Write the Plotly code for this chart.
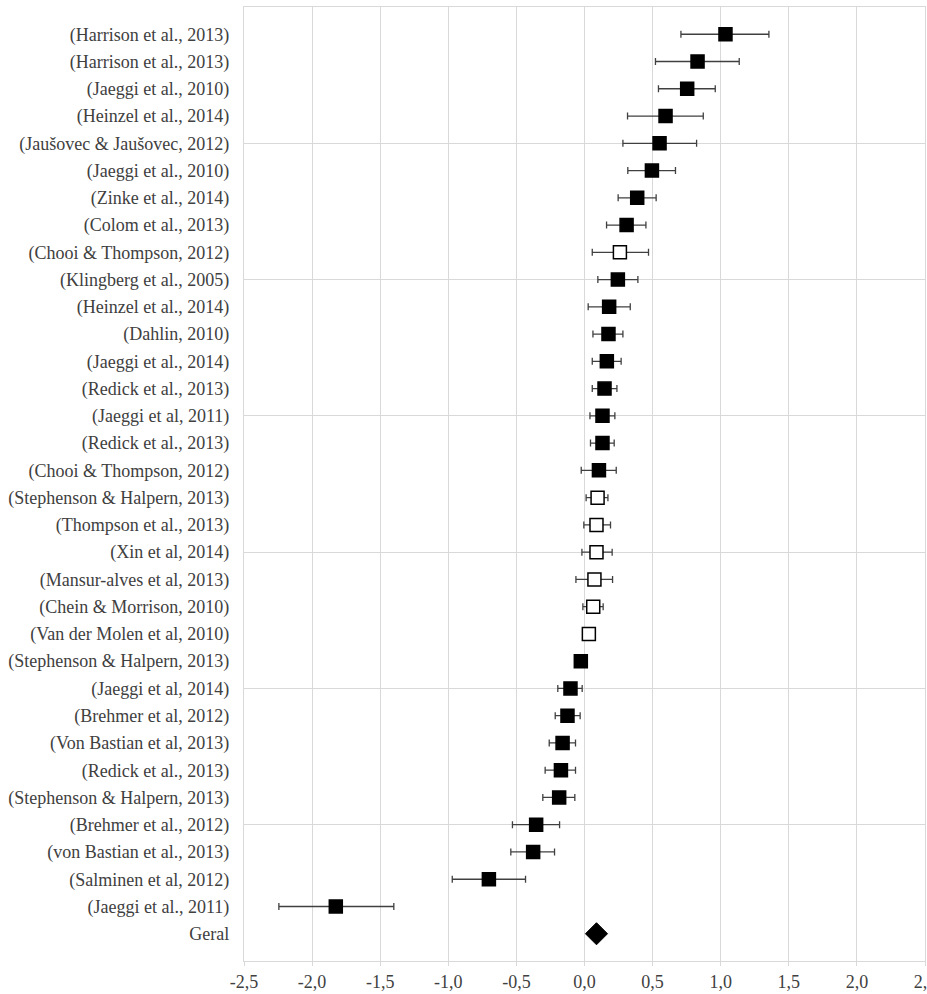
import plotly.graph_objects as go

studies = [
    "(Harrison et al., 2013)", "(Harrison et al., 2013)", "(Jaeggi et al., 2010)",
    "(Heinzel et al., 2014)", "(Jaušovec & Jaušovec, 2012)", "(Jaeggi et al., 2010)",
    "(Zinke et al., 2014)", "(Colom et al., 2013)", "(Chooi & Thompson, 2012)",
    "(Klingberg et al., 2005)", "(Heinzel et al., 2014)", "(Dahlin, 2010)",
    "(Jaeggi et al., 2014)", "(Redick et al., 2013)", "(Jaeggi et al, 2011)",
    "(Redick et al., 2013)", "(Chooi & Thompson, 2012)", "(Stephenson & Halpern, 2013)",
    "(Thompson et al., 2013)", "(Xin et al, 2014)", "(Mansur-alves et al, 2013)",
    "(Chein & Morrison, 2010)", "(Van der Molen et al, 2010)", "(Stephenson & Halpern, 2013)",
    "(Jaeggi et al, 2014)", "(Brehmer et al, 2012)", "(Von Bastian et al, 2013)",
    "(Redick et al., 2013)", "(Stephenson & Halpern, 2013)", "(Brehmer et al., 2012)",
    "(von Bastian et al., 2013)", "(Salminen et al, 2012)", "(Jaeggi et al., 2011)",
]
effect = [1.035, 0.830, 0.754, 0.595, 0.551, 0.495, 0.387, 0.309, 0.260, 0.245, 0.181,
          0.176, 0.164, 0.147, 0.132, 0.132, 0.106, 0.096, 0.088, 0.088, 0.073, 0.064,
          0.032, -0.027, -0.103, -0.125, -0.161, -0.173, -0.186, -0.355, -0.377, -0.702,
          -1.826]
ci_low = [0.708, 0.521, 0.543, 0.316, 0.282, 0.318, 0.247, 0.162, 0.057, 0.098, 0.027,
          0.062, 0.057, 0.057, 0.040, 0.044, -0.024, 0.012, -0.005, -0.019, -0.063, -0.012,
          0.032, -0.027, -0.196, -0.215, -0.259, -0.289, -0.306, -0.529, -0.541, -0.971,
          -2.244]
ci_high = [1.354, 1.136, 0.960, 0.872, 0.823, 0.668, 0.526, 0.451, 0.470, 0.392, 0.336,
           0.282, 0.269, 0.238, 0.223, 0.218, 0.233, 0.172, 0.191, 0.203, 0.206, 0.137,
           0.032, -0.027, -0.017, -0.032, -0.066, -0.066, -0.071, -0.183, -0.220, -0.433,
           -1.400]
hollow = [False, False, False, False, False, False, False, False, True, False, False,
          False, False, False, False, False, False, True, True, True, True, True,
          True, False, False, False, False, False, False, False, False, False, False]
overall_label = "Geral"
overall_effect = 0.088

x_tickvals = [-2.5, -2.0, -1.5, -1.0, -0.5, 0.0, 0.5, 1.0, 1.5, 2.0, 2.5]
x_ticktext = ["-2,5", "-2,0", "-1,5", "-1,0", "-0,5", "0,0", "0,5", "1,0", "1,5", "2,0", "2,5"]

n = len(studies)
ypos = [n + 1 - i for i in range(n)]
labels_all = studies + [overall_label]
ypos_all = ypos + [1]

fig = go.Figure()

def add_group(flag, fill):
    idx = [i for i in range(n) if hollow[i] == flag]
    fig.add_trace(go.Scatter(
        x=[effect[i] for i in idx],
        y=[ypos[i] for i in idx],
        mode="markers",
        marker=dict(symbol="square", size=13, color=fill,
                    line=dict(color="black", width=1.5)),
        error_x=dict(type="data", symmetric=False,
                     array=[ci_high[i] - effect[i] for i in idx],
                     arrayminus=[effect[i] - ci_low[i] for i in idx],
                     color="#404040", thickness=1.3, width=3.5),
        showlegend=False, hoverinfo="skip",
    ))

add_group(False, "black")
add_group(True, "white")

fig.add_trace(go.Scatter(
    x=[overall_effect], y=[1], mode="markers",
    marker=dict(symbol="diamond", size=17, color="black",
                line=dict(color="black", width=1)),
    showlegend=False, hoverinfo="skip",
))

grid = "#d9d9d9"
fig.update_layout(
    width=927, height=994,
    margin=dict(l=244, r=2, t=7, b=33, autoexpand=False),
    paper_bgcolor="white", plot_bgcolor="white",
    font=dict(family="Liberation Serif, Times New Roman, serif", size=18, color="#404040"),
    xaxis=dict(range=[-2.5, 2.5], tickvals=x_tickvals, ticktext=x_ticktext,
               showgrid=True, gridcolor=grid, gridwidth=1.3, zeroline=False,
               showline=True, linecolor=grid, linewidth=1.3, mirror=True,
               ticks="outside", ticklen=4, tickcolor=grid,
               ticklabeloverflow="allow",
               tickfont=dict(size=18, color="#404040")),
    yaxis=dict(range=[0, 35], tickvals=ypos_all, ticktext=labels_all,
               showgrid=False, zeroline=False,
               showline=True, linecolor=grid, linewidth=1.3, mirror=True,
               ticks="", ticklabelstandoff=10,
               minor=dict(tickvals=[0, 5, 10, 15, 20, 25, 30, 35], showgrid=True,
                          gridcolor=grid, gridwidth=1.3, ticks=""),
               tickfont=dict(size=18, color="#404040")),
)

fig.write_html("out.html", config={"displayModeBar": False},
               post_script="document.body.style.margin='0';document.body.style.overflow='hidden';")
